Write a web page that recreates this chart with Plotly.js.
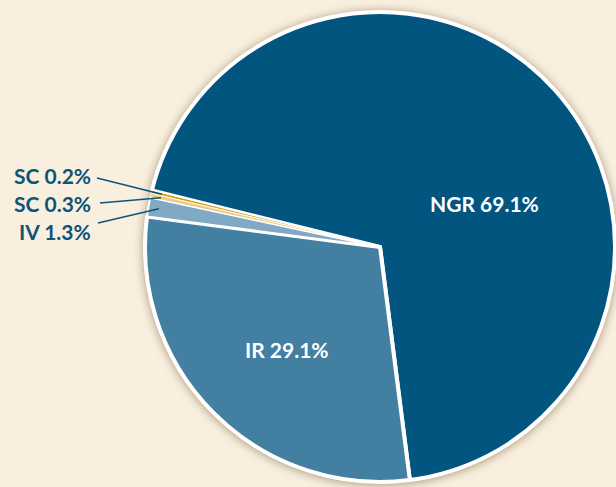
<!DOCTYPE html>
<html><head><meta charset="utf-8">
<script src="https://cdn.plot.ly/plotly-3.0.1.min.js"></script>
<style>
html,body{margin:0;padding:0;background:#F8EFDF;overflow:hidden}
#chart{width:616px;height:487px}
.pielayer .trace{filter:drop-shadow(0px 1px 5px rgba(110,80,40,0.55));}
</style></head><body><div id="chart"></div>
<script>
// ---- data ----
const categories = ['NGR', 'IR', 'IV', 'SC', 'SC'];
const values = [69.1, 29.1, 1.3, 0.3, 0.2];
const colors = ['#02557F', '#437FA0', '#80AAC3', '#EACD86', '#D69B0B'];

// ---- layout constants (pixels) ----
const W = 616, H = 487;
const cx = 380, cy = 247, R = 235;
const rotation = -76.06;
const textDark = '#0D5479';
const font = 'Lato, "Open Sans", sans-serif';
const borderWidths = [4, 4, 2, 1, 1];

const px = (x) => x / W;
const py = (y) => 1 - y / H;
const labelText = (i) => categories[i] + ' ' + values[i].toFixed(1) + '%';

const trace = {
  type: 'pie',
  labels: categories.map((c, i) => i),
  values: values,
  sort: false,
  direction: 'clockwise',
  rotation: rotation,
  marker: { colors: colors, line: { color: '#ffffff', width: borderWidths } },
  textinfo: 'none',
  hoverinfo: 'none',
  domain: { x: [px(cx - R), px(cx + R)], y: [py(cy + R), py(cy - R)] }
};

// inside labels (big slices), outside labels (small slices)
const insidePos = { 0: [484, 203], 1: [287, 349] };
const outsidePos = { 4: [93, 175, 97, 178], 3: [93, 203, 100, 203], 2: [93, 232, 98, 223] };

const total = values.reduce((a, b) => a + b, 0);
function midAngle(i) {
  let before = 0;
  for (let k = 0; k < i; k++) before += values[k];
  return (rotation + 360 * (before + values[i] / 2) / total) * Math.PI / 180;
}

const annotations = [];
const shapes = [];
Object.keys(insidePos).forEach(k => {
  const i = +k, p = insidePos[k];
  annotations.push({
    x: px(p[0]), y: py(p[1]), xref: 'paper', yref: 'paper',
    text: labelText(i), showarrow: false, xanchor: 'center', yanchor: 'middle',
    font: { family: font, size: 21, color: '#ffffff', weight: 700 }
  });
});
Object.keys(outsidePos).forEach(k => {
  const i = +k, p = outsidePos[k];
  annotations.push({
    x: px(p[0]), y: py(p[1]), xref: 'paper', yref: 'paper',
    text: labelText(i), showarrow: false, xanchor: 'right', yanchor: 'middle',
    font: { family: font, size: 21, color: textDark, weight: 700 }
  });
  const a = midAngle(i);
  const ex = cx + 0.955 * R * Math.sin(a), ey = cy - 0.955 * R * Math.cos(a);
  shapes.push({
    type: 'line', xref: 'paper', yref: 'paper',
    x0: px(p[2]), y0: py(p[3]), x1: px(ex), y1: py(ey),
    line: { color: textDark, width: 1.5 }, layer: 'above'
  });
});

const layout = {
  width: W, height: H,
  margin: { l: 0, r: 0, t: 0, b: 0 },
  paper_bgcolor: '#F8EFDF', plot_bgcolor: '#F8EFDF',
  showlegend: false,
  annotations: annotations,
  shapes: shapes
};

Plotly.newPlot('chart', [trace], layout, { displayModeBar: false, staticPlot: true });
</script></body></html>
